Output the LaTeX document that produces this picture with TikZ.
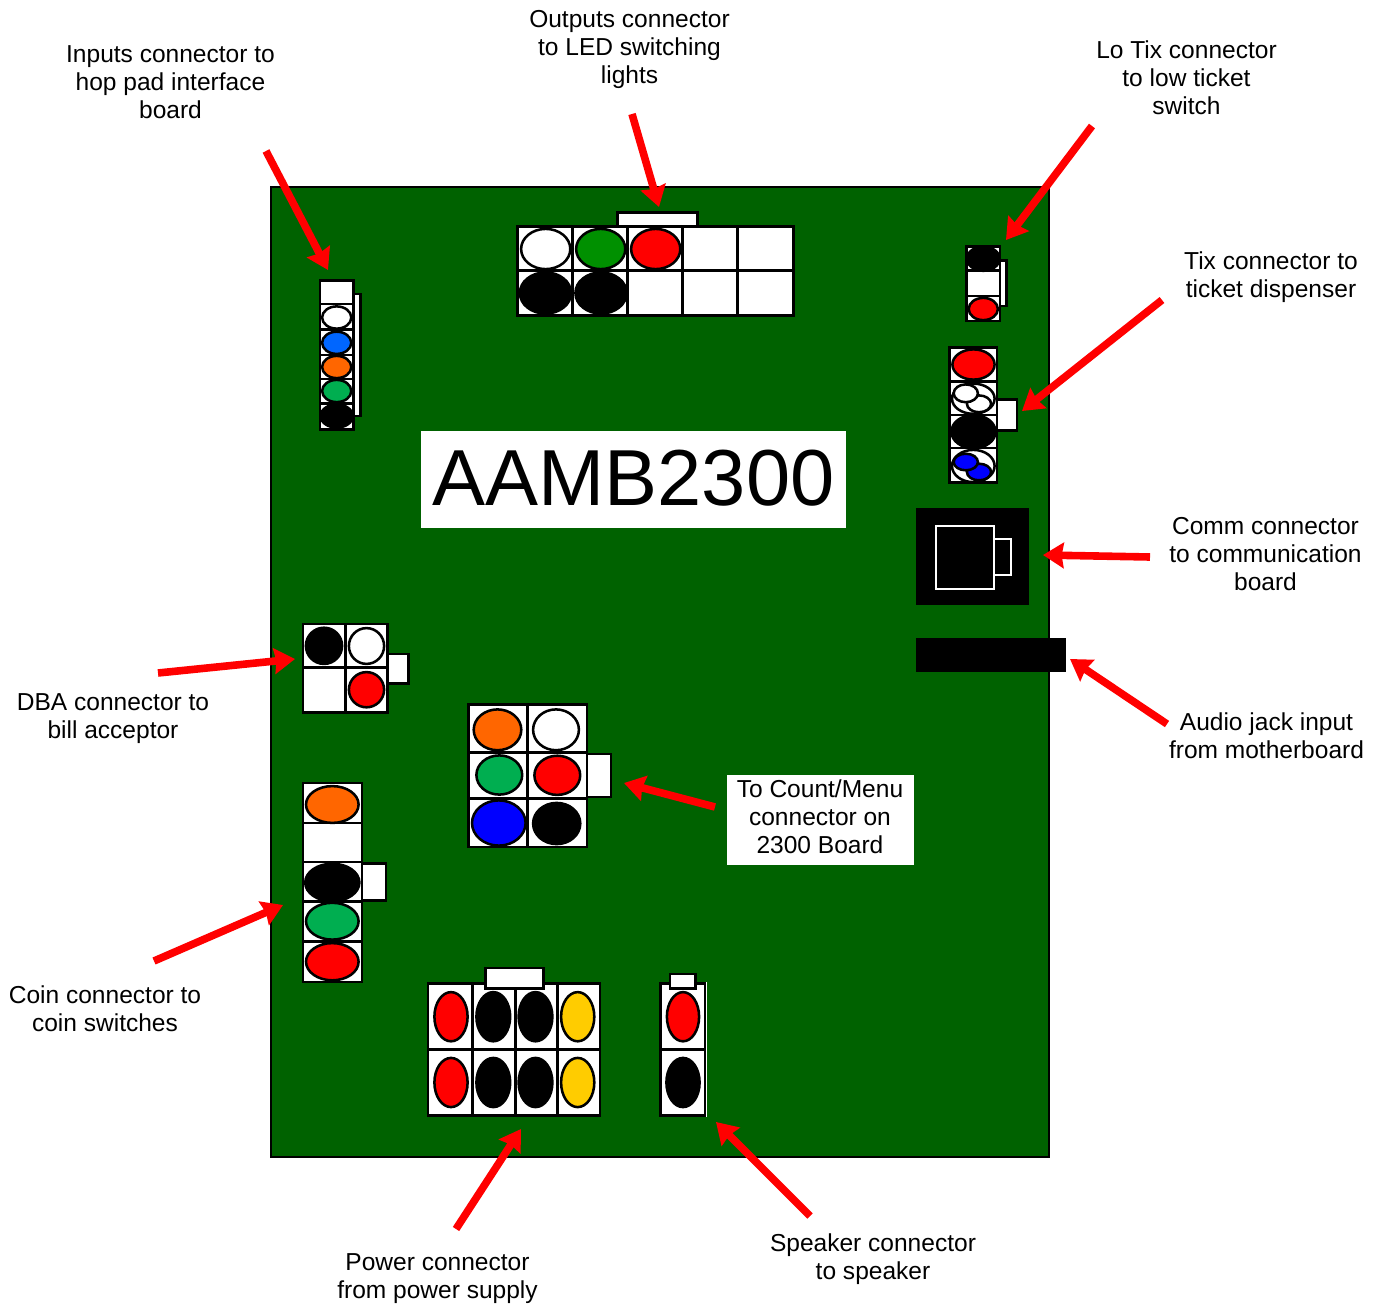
\documentclass[tikz,border=0pt]{standalone}
\usepackage{fontspec}
\setmainfont{Liberation Sans}
\usepackage{xcolor}
\usetikzlibrary{arrows.meta,positioning,shapes.geometric}
\definecolor{boardgreen}{HTML}{006200}
\definecolor{pinblue}{HTML}{0066FF}
\definecolor{pinorange}{HTML}{FF6600}
\definecolor{pingreen}{HTML}{00AE50}
\definecolor{pindark}{HTML}{009000}
\definecolor{pinyellow}{HTML}{FFCC00}
\tikzset{
    caption/.style={align=center,inner sep=0pt,font=\fontsize{18.4}{21}\selectfont},
    shell/.style 2 args={rectangle,draw=black,fill=white,line width=1.9pt,inner sep=0pt,minimum width=#1*0.75pt+0.4pt,minimum height=#2*0.75pt+0.4pt},
    pin/.style n args={3}{ellipse,draw=black,fill=#1,line width=1.9pt,inner sep=0pt,minimum width=#2*1.5pt-0.6pt,minimum height=#3*1.5pt-0.6pt},
    blank/.style 2 args={rectangle,fill=white,inner sep=0pt,minimum width=#1*0.75pt,minimum height=#2*0.75pt},
    pointer/.style={draw=red,line width=5.7pt,-{Stealth[length=15.5pt,width=19pt,inset=1.5pt]}}
}
\begin{document}
\begin{tikzpicture}[x=0.75pt,y=-0.75pt]
        \useasboundingbox (0,0) rectangle (1379,1307);
        \node[rectangle,draw=black,fill=boardgreen,line width=2.2pt,inner sep=0pt,minimum width=778*0.75pt,minimum height=970*0.75pt] (board) at (660,672) {};
        \node[blank={425}{97}] (titleback) at (633.5,479.5) {};
        \node[inner sep=0pt,font=\fontsize{59.6}{60}\selectfont] (title) at (633.5,478) {AAMB2300};
        % outputs
        \node[shell={79}{14}] (outtab) at (657.5,220) {};
        \node[shell={55}{44}] (outa) at (545.5,249) {};
        \node[shell={55}{44}] (outb) at (600.5,249) {};
        \node[shell={55}{44}] (outc) at (655.5,249) {};
        \node[shell={55}{44}] (outd) at (710.5,249) {};
        \node[shell={55}{44}] (oute) at (765.5,249) {};
        \node[shell={55}{44}] (outf) at (545.5,293) {};
        \node[shell={55}{44}] (outg) at (600.5,293) {};
        \node[shell={55}{44}] (outh) at (655.5,293) {};
        \node[shell={55}{44}] (outi) at (710.5,293) {};
        \node[shell={55}{44}] (outj) at (765.5,293) {};
        \node[pin={white}{25}{20.5}] (outpa) at (545.7,249) {};
        \node[pin={pindark}{25}{20.5}] (outpb) at (600.7,249) {};
        \node[pin={red}{25}{20.5}] (outpc) at (655.7,249) {};
        \node[pin={black}{26}{21}] (outpf) at (545.5,293) {};
        \node[pin={black}{26}{21}] (outpg) at (601,293) {};
        % lo tix
        \node[shell={16}{45.3}] (lotab) at (998,283.3) {};
        \node[shell={33.3}{24}] (loa) at (983.3,258.7) {};
        \node[shell={33.3}{25}] (loc) at (983.3,308.2) {};
        \node[shell={33.3}{25}] (lob) at (983.3,283.2) {};
        \node[pin={black}{16.7}{12.5}] (lopa) at (983.3,258.7) {};
        \node[pin={red}{15}{11.5}] (lopc) at (983.3,309) {};
        % tix
        \node[shell={26.7}{30}] (tixtab) at (1003.3,415) {};
        \node[shell={46.7}{34}] (tixa) at (973.3,364.7) {};
        \node[shell={46.7}{33.3}] (tixb) at (973.3,398.3) {};
        \node[shell={46.7}{33.3}] (tixc) at (973.3,431.7) {};
        \node[shell={46.7}{34}] (tixd) at (973.3,465.3) {};
        \node[pin={red}{21.5}{15.5}] (tixpa) at (973.5,364.5) {};
        \node[pin={white}{21.7}{15.5}] (tixpb) at (973.3,398.7) {};
        \node[pin={white}{12.5}{8.8}] (tixpbr) at (979,403.8) {};
        \node[pin={white}{12.5}{9.3}] (tixpbl) at (965.8,393.3) {};
        \node[pin={black}{22.5}{17}] (tixpc) at (973.5,431.7) {};
        \node[pin={white}{21.7}{16.5}] (tixpd) at (973.3,466) {};
        \node[pin={blue}{12.5}{8.7}] (tixpdr) at (979,472) {};
        \node[pin={blue}{12.5}{8.7}] (tixpdl) at (965.8,462) {};
        % inputs
        \node[shell={15}{121.4}] (intab) at (352.5,355) {};
        \node[shell={33.3}{23.6}] (ina) at (336.7,292.5) {};
        \node[shell={33.3}{25.7}] (inb) at (336.7,317.2) {};
        \node[shell={33.3}{25}] (inc) at (336.7,342.5) {};
        \node[shell={33.3}{24.3}] (ind) at (336.7,367.2) {};
        \node[shell={33.3}{24.7}] (ine) at (336.7,391.7) {};
        \node[shell={33.3}{25}] (inf) at (336.7,416.5) {};
        \node[pin={white}{15}{11.5}] (inpb) at (336.7,317.5) {};
        \node[pin={pinblue}{15}{11.5}] (inpc) at (336.7,342.8) {};
        \node[pin={pinorange}{15}{11.5}] (inpd) at (336.7,367) {};
        \node[pin={pingreen}{15}{11.5}] (inpe) at (336.7,391) {};
        \node[pin={black}{16.5}{12}] (inpf) at (336.7,416) {};
        % dba
        \node[shell={28.3}{29}] (dbatab) at (394.2,668.8) {};
        \node[shell={42.4}{43.4}] (dbaa) at (324.5,646) {};
        \node[shell={41.6}{43.4}] (dbab) at (366.5,646) {};
        \node[shell={42.4}{44.6}] (dbac) at (324.5,690) {};
        \node[shell={41.6}{44.6}] (dbad) at (366.5,690) {};
        \node[pin={black}{18.5}{18.5}] (dbapa) at (324,645.8) {};
        \node[pin={white}{18}{18.3}] (dbapb) at (366.5,646) {};
        \node[pin={red}{18}{18}] (dbapd) at (366.5,689.7) {};
        % count/menu
        \node[shell={35.7}{42.4}] (cnttab) at (592.8,775.5) {};
        \node[shell={58.7}{47.7}] (cnta) at (498.3,728.8) {};
        \node[shell={59}{47.7}] (cntb) at (557.2,728.8) {};
        \node[shell={58.7}{46.3}] (cntc) at (498.3,775.8) {};
        \node[shell={59}{46.3}] (cntd) at (557.2,775.8) {};
        \node[shell={58.7}{47.7}] (cnte) at (498.3,822.8) {};
        \node[shell={59}{47.7}] (cntf) at (557.2,822.8) {};
        \node[pin={pinorange}{24.2}{20.8}] (cntpa) at (497.5,729.8) {};
        \node[pin={white}{23.3}{20.8}] (cntpb) at (556,729.8) {};
        \node[pin={pingreen}{23.3}{20}] (cntpc) at (499.3,775) {};
        \node[pin={red}{23.3}{20}] (cntpd) at (557.3,775.3) {};
        \node[pin={blue}{27.2}{23}] (cntpe) at (498.8,823) {};
        \node[pin={black}{24}{21}] (cntpf) at (556.7,823.5) {};
        % coin
        \node[shell={35.7}{36}] (cointab) at (367.8,882) {};
        \node[shell={58.4}{40}] (coina) at (332.5,803.3) {};
        \node[shell={58.4}{39}] (coinb) at (332.5,842.8) {};
        \node[shell={58.4}{39.4}] (coinc) at (332.5,882) {};
        \node[shell={58.4}{40}] (coind) at (332.5,921.7) {};
        \node[shell={58.4}{40}] (coine) at (332.5,961.7) {};
        \node[pin={pinorange}{26.7}{18.8}] (coinpa) at (332.3,804.5) {};
        \node[pin={black}{27.5}{19.2}] (coinpc) at (332.3,882.5) {};
        \node[pin={pingreen}{26.7}{18.8}] (coinpd) at (332.3,921.2) {};
        \node[pin={red}{26.7}{19}] (coinpe) at (332.3,961.7) {};
        % power
        \node[blank={173.5}{134.4}] (powback) at (514.2,1049.5) {};
        \node[shell={44.4}{66}] (powa) at (450.5,1017) {};
        \node[shell={43.3}{66}] (powb) at (494.3,1017) {};
        \node[shell={41.7}{66}] (powc) at (536.8,1017) {};
        \node[shell={42.3}{66}] (powd) at (578.8,1017) {};
        \node[shell={44.4}{65}] (powe) at (450.5,1082.5) {};
        \node[shell={43.3}{65}] (powf) at (494.3,1082.5) {};
        \node[shell={41.7}{65}] (powg) at (536.8,1082.5) {};
        \node[shell={42.3}{65}] (powh) at (578.8,1082.5) {};
        \node[shell={57.6}{20}] (powtab) at (514.5,978.3) {};
        \node[pin={red}{17}{25}] (powpa) at (451,1016.7) {};
        \node[pin={black}{17.3}{25}] (powpb) at (493.3,1016.7) {};
        \node[pin={black}{17.3}{25}] (powpc) at (535.5,1016.7) {};
        \node[pin={pinyellow}{17}{25}] (powpd) at (577.7,1016.7) {};
        \node[pin={red}{17}{25}] (powpe) at (451,1082.5) {};
        \node[pin={black}{17.3}{25}] (powpf) at (493.3,1082.5) {};
        \node[pin={black}{17.3}{25}] (powpg) at (535.5,1082.5) {};
        \node[pin={pinyellow}{17}{25}] (powph) at (577.7,1082.5) {};
        % speaker
        \node[blank={46}{134.4}] (spkback) at (683.7,1049.5) {};
        \node[shell={44.3}{66}] (spka) at (682.8,1017) {};
        \node[shell={44.3}{65}] (spkb) at (682.8,1082.5) {};
        \node[shell={25.3}{14}] (spktab) at (682.7,981.3) {};
        \node[pin={red}{16.5}{25}] (spkpa) at (683,1016.7) {};
        \node[pin={black}{17}{25}] (spkpb) at (683,1082.5) {};
        % comm and audio
        \node[rectangle,fill=black,inner sep=0pt,minimum width=113*0.75pt,minimum height=97*0.75pt] (comm) at (972.5,556.5) {};
        \node[shell={18}{35.7},draw=white,fill=black,line width=1.5pt] (commtab) at (1002,557.2) {};
        \node[shell={56.6}{61.6},draw=white,fill=black,line width=1.5pt] (commbody) at (965,557.5) {};
        \node[rectangle,fill=black,inner sep=0pt,minimum width=150*0.75pt,minimum height=33.7*0.75pt] (audio) at (991,654.9) {};
        % captions
        \node[caption] (inlabel) at (170.5,82) {Inputs connector to\\hop pad interface\\board};
        \node[caption] (outlabel) at (629.5,49) {Outputs connector\\to LED switching\\lights};
        \node[caption] (lolabel) at (1186.5,78) {Lo Tix connector\\to low ticket\\switch};
        \node[caption] (tixlabel) at (1271,277) {Tix connector to\\ticket dispenser};
        \node[caption] (commlabel) at (1265.5,554.5) {Comm connector\\to communication\\board};
        \node[caption] (audiolabel) at (1266.5,736) {Audio jack input\\from motherboard};
        \node[blank={187}{90}] (cntback) at (820.5,820) {};
        \node[caption] (cntlabel) at (820,817) {To Count/Menu\\connector on\\2300 Board};
        \node[caption] (dbalabel) at (113,719) {DBA connector to\\bill acceptor};
        \node[caption] (coinlabel) at (105,1008.5) {Coin connector to\\coin switches};
        \node[caption] (powlabel) at (437.5,1278.5) {Power connector\\from power supply};
        \node[caption] (spklabel) at (873,1259) {Speaker connector\\to speaker};
        % arrow ends
        \coordinate (infrom) at (266,151);
        \coordinate (into) at (328,270);
        \coordinate (outfrom) at (632,114);
        \coordinate (outto) at (659,207);
        \coordinate (lofrom) at (1092,126);
        \coordinate (loto) at (1006,240);
        \coordinate (tixfrom) at (1162,300);
        \coordinate (tixto) at (1022,411);
        \coordinate (commfrom) at (1150,557);
        \coordinate (commto) at (1043,555);
        \coordinate (audiofrom) at (1167,724);
        \coordinate (audioto) at (1070,659);
        \coordinate (cntfrom) at (715,807);
        \coordinate (cntto) at (624,783);
        \coordinate (dbafrom) at (158,673);
        \coordinate (dbato) at (295,659);
        \coordinate (coinfrom) at (154,961);
        \coordinate (cointo) at (283,905);
        \coordinate (powfrom) at (456,1229);
        \coordinate (powto) at (521,1129);
        \coordinate (spkfrom) at (810,1216);
        \coordinate (spkto) at (716,1122);
        \draw[pointer] (infrom) -- (into);
        \draw[pointer] (outfrom) -- (outto);
        \draw[pointer] (lofrom) -- (loto);
        \draw[pointer] (tixfrom) -- (tixto);
        \draw[pointer] (commfrom) -- (commto);
        \draw[pointer] (audiofrom) -- (audioto);
        \draw[pointer] (cntfrom) -- (cntto);
        \draw[pointer] (dbafrom) -- (dbato);
        \draw[pointer] (coinfrom) -- (cointo);
        \draw[pointer] (powfrom) -- (powto);
        \draw[pointer] (spkfrom) -- (spkto);
    \end{tikzpicture}
\end{document}
